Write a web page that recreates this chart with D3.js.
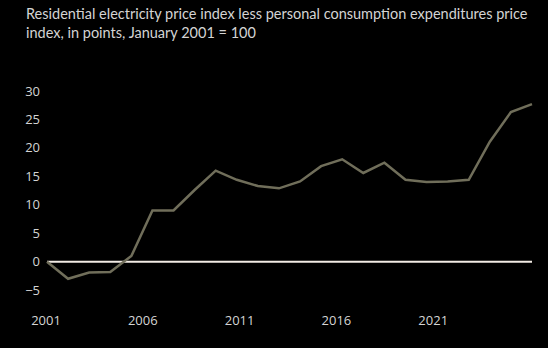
<!DOCTYPE html>
<html>
<head>
<meta charset="utf-8">
<script src="https://cdn.jsdelivr.net/npm/d3@7"></script>
<style>
  body { margin: 0; background: #000; }
  svg { display: block; }
  text { font-family: "Open Sans", "Noto Sans", sans-serif; }
</style>
</head>
<body>
<div id="chart"></div>
<script>
// chart values
var titleLines = [
    "Residential electricity price index less personal consumption expenditures price",
    "index, in points, January 2001 = 100"
];
var values = [0, -3.0, -1.9, -1.8, 1.0, 9.0, 9.0, 12.6, 16.0, 14.4, 13.3, 12.9,
    14.1, 16.8, 18.0, 15.6, 17.4, 14.4, 14.0, 14.1, 14.4, 21.1, 26.3, 27.7];
var yTicks = [-5, 0, 5, 10, 15, 20, 25, 30];
var xTickYears = [2001, 2006, 2011, 2016, 2021];

var svgWidth = 548;
var svgHeight = 348;

var svg = d3.select("#chart")
    .append("svg")
    .attr("width", svgWidth)
    .attr("height", svgHeight);

svg.append("rect")
    .attr("width", svgWidth)
    .attr("height", svgHeight)
    .attr("fill", "#000");

// title
svg.append("text")
    .attr("x", 26)
    .attr("y", 19)
    .attr("fill", "#d4d4d4")
    .attr("font-size", 14.5)
    .style("font-family", "Lato, 'Open Sans', sans-serif")
    .selectAll("tspan")
    .data(titleLines)
    .enter().append("tspan")
    .attr("x", 26)
    .attr("dy", function (d, i) { return i === 0 ? 0 : 19; })
    .text(function (d) { return d; });

// scales
var x = d3.scaleLinear().domain([0, values.length - 1]).range([47, 532]);
var xYear = d3.scaleLinear().domain([2001, 2026]).range([46, 530]);
var y = d3.scaleLinear().domain([-5, 30]).range([290.2, 91]);

// y tick labels
svg.append("g")
    .selectAll("text")
    .data(yTicks)
    .enter().append("text")
    .attr("x", 40)
    .attr("y", function (d) { return y(d); })
    .attr("dy", "0.35em")
    .attr("text-anchor", "end")
    .attr("fill", "#d4d4d4")
    .attr("font-size", 13)
    .text(function (d) { return d < 0 ? "\u2212" + Math.abs(d) : d; });

// x tick labels
svg.append("g")
    .selectAll("text")
    .data(xTickYears)
    .enter().append("text")
    .attr("x", function (d) { return xYear(d); })
    .attr("y", 320)
    .attr("dy", "0.35em")
    .attr("text-anchor", "middle")
    .attr("fill", "#d4d4d4")
    .attr("font-size", 13)
    .text(function (d) { return d; });

// zero line
svg.append("line")
    .attr("x1", x(0))
    .attr("x2", x(values.length - 1))
    .attr("y1", y(0))
    .attr("y2", y(0))
    .attr("stroke", "#f2ebe4")
    .attr("stroke-width", 2);

// series line
var valueline = d3.line()
    .x(function (d, i) { return x(i); })
    .y(function (d) { return y(d); });

svg.append("path")
    .datum(values)
    .attr("d", valueline)
    .attr("fill", "none")
    .attr("stroke", "#706e5a")
    .attr("stroke-width", 2.5)
    .attr("stroke-linejoin", "miter");
</script>
</body>
</html>
